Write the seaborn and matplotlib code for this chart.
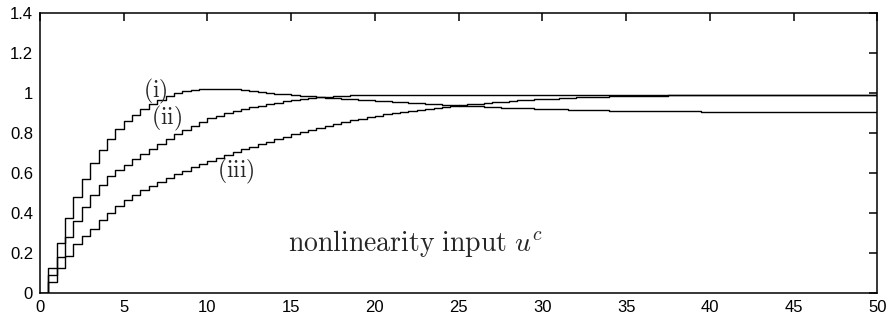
import numpy as np
import pandas as pd
import matplotlib
matplotlib.use("Agg")
import matplotlib.pyplot as plt
from matplotlib.ticker import FormatStrFormatter
import seaborn as sns

# sampling period of the staircase responses
sample_period = 0.5

# response (i): overshoot then settles low
resp_i = [
    0.0, 0.122, 0.248, 0.372, 0.48, 0.57, 0.65, 0.715, 0.77, 0.82,
    0.86, 0.89, 0.92, 0.945, 0.965, 0.985, 0.998, 1.007, 1.013, 1.017,
    1.02, 1.021, 1.02, 1.018, 1.015, 1.011, 1.006, 1.001, 0.996, 0.992,
    0.988, 0.985, 0.982, 0.979, 0.976, 0.973, 0.970, 0.967, 0.965, 0.962,
    0.959, 0.957, 0.954, 0.952, 0.949, 0.947, 0.944, 0.942, 0.940, 0.938,
    0.936, 0.934, 0.932, 0.930, 0.928, 0.926, 0.925, 0.923, 0.922, 0.920,
    0.919, 0.918, 0.917, 0.916, 0.915, 0.914, 0.913, 0.912, 0.911, 0.911,
    0.910, 0.909, 0.909, 0.908, 0.908, 0.908, 0.907, 0.907, 0.907, 0.906,
    0.906, 0.906, 0.906, 0.906, 0.906, 0.906, 0.905, 0.905, 0.905, 0.905,
    0.905, 0.905, 0.905, 0.905, 0.905, 0.905, 0.905, 0.905, 0.905, 0.905,
    0.905,
]

# response (ii)
resp_ii = [
    0.0, 0.089, 0.18, 0.28, 0.36, 0.43, 0.49, 0.54, 0.585, 0.612,
    0.64, 0.667, 0.694, 0.72, 0.745, 0.77, 0.795, 0.815, 0.835, 0.853,
    0.872, 0.885, 0.897, 0.908, 0.918, 0.927, 0.936, 0.944, 0.951, 0.958,
    0.964, 0.969, 0.974, 0.978, 0.981, 0.984, 0.986, 0.987, 0.988, 0.989,
    0.990, 0.990, 0.990, 0.990, 0.990, 0.990, 0.990, 0.990, 0.990, 0.990,
    0.990, 0.990, 0.990, 0.990, 0.990, 0.990, 0.990, 0.990, 0.990, 0.990,
    0.990, 0.990, 0.990, 0.990, 0.990, 0.990, 0.990, 0.990, 0.990, 0.990,
    0.990, 0.990, 0.990, 0.990, 0.990, 0.990, 0.990, 0.990, 0.990, 0.990,
    0.990, 0.990, 0.990, 0.990, 0.990, 0.990, 0.990, 0.990, 0.990, 0.990,
    0.990, 0.990, 0.990, 0.990, 0.990, 0.990, 0.990, 0.990, 0.990, 0.990,
    0.990,
]

# response (iii): slowest
resp_iii = [
    0.0, 0.056, 0.122, 0.183, 0.243, 0.285, 0.32, 0.365, 0.40, 0.435,
    0.465, 0.49, 0.512, 0.533, 0.553, 0.573, 0.592, 0.61, 0.627, 0.644,
    0.66, 0.675, 0.69, 0.704, 0.718, 0.731, 0.744, 0.756, 0.768, 0.780,
    0.792, 0.803, 0.814, 0.825, 0.835, 0.845, 0.854, 0.863, 0.871, 0.879,
    0.886, 0.893, 0.899, 0.905, 0.911, 0.916, 0.921, 0.926, 0.930, 0.934,
    0.938, 0.942, 0.946, 0.950, 0.953, 0.956, 0.959, 0.962, 0.964, 0.967,
    0.969, 0.971, 0.973, 0.975, 0.977, 0.978, 0.980, 0.981, 0.982, 0.983,
    0.984, 0.985, 0.985, 0.986, 0.986, 0.987, 0.987, 0.988, 0.988, 0.988,
    0.989, 0.989, 0.989, 0.989, 0.989, 0.989, 0.990, 0.990, 0.990, 0.990,
    0.990, 0.990, 0.990, 0.990, 0.990, 0.990, 0.990, 0.990, 0.990, 0.990,
    0.990,
]

curve_names = ["(i)", "(ii)", "(iii)"]
x_ticks = [0, 5, 10, 15, 20, 25, 30, 35, 40, 45, 50]
y_ticks = [0, 0.2, 0.4, 0.6, 0.8, 1.0, 1.2, 1.4]


def build_frame():
    """Long-form table of the three staircase responses"""
    frames = []
    for name, vals in zip(curve_names, [resp_i, resp_ii, resp_iii]):
        t = np.arange(len(vals)) * sample_period
        frames.append(pd.DataFrame({"t": t, "u": vals, "curve": name}))
    return pd.concat(frames, ignore_index=True)


def style_axis(ax):
    """MATLAB-ish boxed axis with inward ticks"""
    for spine in ax.spines.values():
        spine.set_visible(True)
        spine.set_color("black")
        spine.set_linewidth(1.1)
    ax.tick_params(axis="both", which="both", direction="in", length=5.5,
                   width=1.1, top=True, right=True, labelsize=12, pad=5,
                   colors="black")
    ax.grid(False)


if __name__ == "__main__":
    sns.set_theme(style="white")
    plt.rcParams["font.family"] = ["Liberation Sans", "DejaVu Sans"]
    plt.rcParams["mathtext.fontset"] = "cm"

    df = build_frame()
    fig = plt.figure(figsize=(8.88, 3.2), dpi=100)
    ax = fig.add_axes([0.045, 0.085, 0.943, 0.875])
    sns.lineplot(data=df, x="t", y="u", hue="curve", estimator=None,
                 palette=["black"] * 3, legend=False, drawstyle="steps-post",
                 linewidth=1.0, ax=ax)
    ax.set_xlim(0, 50)
    ax.set_ylim(0, 1.4)
    ax.set_xticks(x_ticks)
    ax.set_yticks(y_ticks)
    ax.yaxis.set_major_formatter(FormatStrFormatter("%g"))
    ax.set_xlabel("")
    ax.set_ylabel("")
    style_axis(ax)

    # curve labels
    ax.text(6.9, 1.005, r"$\mathrm{(i)}$", fontsize=17, ha="center", va="center")
    ax.text(7.55, 0.872, r"$\mathrm{(ii)}$", fontsize=17, ha="center", va="center")
    ax.text(11.7, 0.605, r"$\mathrm{(iii)}$", fontsize=17, ha="center", va="center")
    ax.text(14.8, 0.21, r"$\mathrm{nonlinearity\ input}\ u^c$", fontsize=20,
            ha="left", va="baseline")

    fig.savefig("out.png", dpi=100)
